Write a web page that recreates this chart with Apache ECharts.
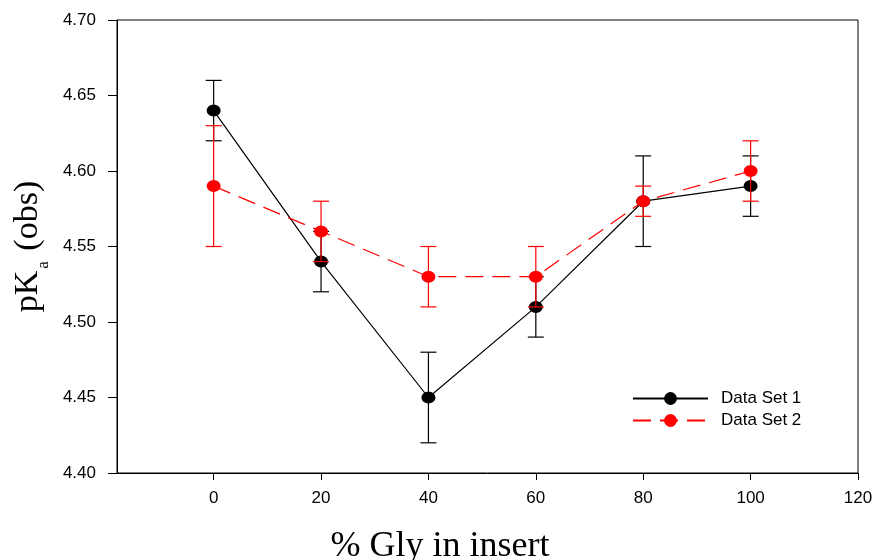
<!DOCTYPE html>
<html>
<head>
<meta charset="utf-8">
<script src="https://cdn.jsdelivr.net/npm/echarts@6/dist/echarts.min.js"></script>
<style>
html,body{margin:0;padding:0;background:#fff;}
#chart{width:875px;height:560px;}
</style>
</head>
<body>
<div id="chart"></div>
<script>
var xValues = [0, 20, 40, 60, 80, 100];
var set1 = [4.64, 4.54, 4.45, 4.51, 4.58, 4.59];
var set1Err = [0.02, 0.02, 0.03, 0.02, 0.03, 0.02];
var set2 = [4.59, 4.56, 4.53, 4.53, 4.58, 4.60];
var set2Err = [0.04, 0.02, 0.02, 0.02, 0.01, 0.02];
var xTicks = [0, 20, 40, 60, 80, 100, 120];
var seriesNames = ['Data Set 1', 'Data Set 2'];
var xTitle = '% Gly in insert';

function pts(vals) { return xValues.map(function (x, i) { return [x, vals[i]]; }); }
function errs(vals, e) { return xValues.map(function (x, i) { return [x, vals[i] - e[i], vals[i] + e[i]]; }); }

function errRender(color) {
  return function (params, api) {
    var x = api.value(0);
    var lo = api.coord([x, api.value(1)]);
    var hi = api.coord([x, api.value(2)]);
    var hw = 8;
    var st = { stroke: color, lineWidth: 1.2 };
    return {
      type: 'group',
      children: [
        { type: 'line', shape: { x1: lo[0], y1: lo[1], x2: hi[0], y2: hi[1] }, style: st },
        { type: 'line', shape: { x1: lo[0] - hw, y1: lo[1], x2: lo[0] + hw, y2: lo[1] }, style: st },
        { type: 'line', shape: { x1: hi[0] - hw, y1: hi[1], x2: hi[0] + hw, y2: hi[1] }, style: st }
      ]
    };
  };
}

var chart = echarts.init(document.getElementById('chart'));
var sansFont = '"Liberation Sans", Arial, sans-serif';
var serifFont = '"Liberation Serif", "Times New Roman", serif';

chart.setOption({
  animation: false,
  backgroundColor: '#fff',
  grid: { left: 117, right: 17, top: 20, bottom: 87, containLabel: false, outerBoundsMode: 'none', show: true, borderColor: '#000', borderWidth: 1, backgroundColor: 'transparent' },
  legend: {
    orient: 'vertical',
    left: 627,
    top: 385,
    itemWidth: 75,
    itemHeight: 16,
    itemGap: 5,
    data: seriesNames,
    textStyle: { fontFamily: sansFont, fontSize: 17, color: '#000', padding: [0, 0, 0, 8] }
  },
  xAxis: {
    type: 'value',
    min: -18,
    max: 120,
    name: xTitle,
    nameLocation: 'middle',
    nameGap: 56,
    nameTextStyle: { fontFamily: serifFont, fontSize: 36, color: '#000', padding: [0, 95, 0, 0] },
    axisLine: { onZero: false, lineStyle: { color: '#000', width: 1 } },
    axisTick: { show: true, inside: false, length: 7, customValues: xTicks, lineStyle: { color: '#000' } },
    axisLabel: { customValues: xTicks, fontFamily: sansFont, fontSize: 17, color: '#000', margin: 17 },
    splitLine: { show: false }
  },
  yAxis: {
    type: 'value',
    min: 4.40,
    max: 4.70,
    interval: 0.05,
    name: '{m|pK}{s|a}{m| (obs)}',
    nameLocation: 'middle',
    nameRotate: 90,
    nameGap: 64,
    nameTextStyle: {
      color: '#000',
      rich: {
        m: { fontFamily: serifFont, fontSize: 34, lineHeight: 34, verticalAlign: 'top', color: '#000' },
        s: { fontFamily: serifFont, fontSize: 17, lineHeight: 17, verticalAlign: 'top', padding: [24, 2, 0, 2], color: '#000' }
      }
    },
    axisLine: { show: true, onZero: false, lineStyle: { color: '#000', width: 1 } },
    axisTick: { show: true, inside: false, length: 9, lineStyle: { color: '#000' } },
    axisLabel: { fontFamily: sansFont, fontSize: 17, color: '#000', margin: 21, formatter: function (v) { return v.toFixed(2); } },
    splitLine: { show: false }
  },
  series: [
    { name: 'err1', type: 'custom', renderItem: errRender('#000'), data: errs(set1, set1Err), z: 2 },
    {
      name: seriesNames[0], type: 'line', data: pts(set1), z: 3,
      symbol: 'circle', symbolSize: [14, 12],
      itemStyle: { color: '#000' },
      lineStyle: { color: '#000', width: 1.2, type: 'solid' }
    },
    { name: 'err2', type: 'custom', renderItem: errRender('#f00'), data: errs(set2, set2Err), z: 4 },
    {
      name: seriesNames[1], type: 'line', data: pts(set2), z: 5,
      symbol: 'circle', symbolSize: [14, 12],
      itemStyle: { color: '#f00' },
      lineStyle: { color: '#f00', width: 1.2, type: [18, 9] }
    }
  ]
});
</script>
</body>
</html>
